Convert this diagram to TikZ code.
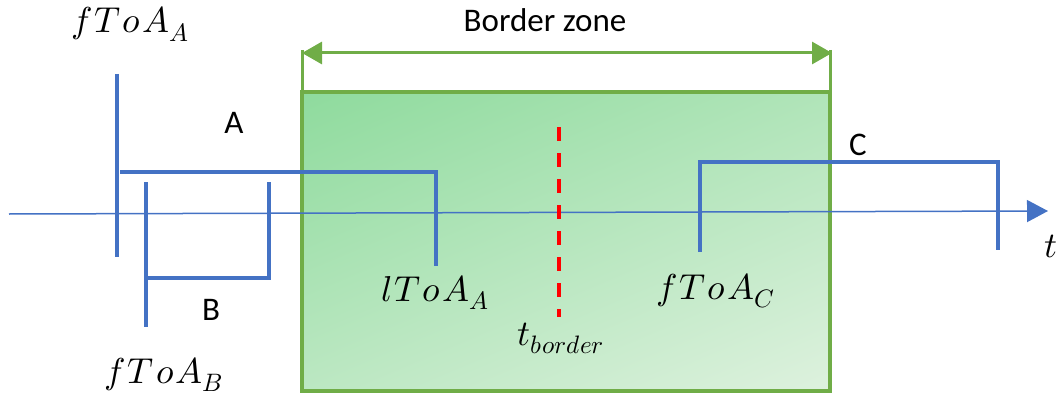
\documentclass[tikz,border=0pt]{standalone}
\usepackage{fontspec}
\usepackage{unicode-math}
\setmathfont{Latin Modern Math}
\newfontfamily\labelfont{Carlito}
\usetikzlibrary{arrows.meta}

\definecolor{sigblue}{HTML}{4472C4}
\definecolor{zonegreen}{HTML}{70AD47}
\definecolor{zonedark}{HTML}{8CDA9B}
\definecolor{zonelight}{HTML}{E0F2E0}
\definecolor{borderred}{HTML}{FF0000}

% diagonal fill of the border zone, spread over the whole shading square
\pgfdeclarehorizontalshading{zonefade}{100bp}{%
  color(0bp)=(zonedark); color(15bp)=(zonedark);
  color(85bp)=(zonelight); color(100bp)=(zonelight)}

% math italic for the time-of-arrival labels
\newcommand{\toa}[2]{$#1\mkern1mu T\mkern1mu o\mkern1mu A_{#2}$}

\begin{document}
\begin{tikzpicture}[x=1pt,y=-1pt,
  signal/.style={draw=sigblue,line width=3.2pt},
  axisline/.style={draw=sigblue,line width=1.5pt,-{Triangle[length=21pt,width=22pt]}},
  zonebox/.style={shading=zonefade,shading angle=-67},
  zoneframe/.style={draw=zonegreen,line width=4pt},
  zoneline/.style={draw=zonegreen,line width=3pt},
  zonearrow/.style={zoneline,{Triangle[length=20pt,width=22pt]}-{Triangle[length=20pt,width=22pt]}},
  dashline/.style={draw=borderred,line width=4pt,dash pattern=on 14pt off 12pt},
  sigtext/.style={font=\labelfont\fontsize{33}{36}\selectfont,inner sep=0pt},
  mathtext/.style={font=\fontsize{36}{40}\selectfont,inner sep=0pt,anchor=base}]

\path[use as bounding box] (0,0) rectangle (1064,401);

% border zone
\coordinate (zTL) at (302,92);
\coordinate (zBR) at (830,391);
\shade[zonebox] (zTL) rectangle (zBR);
\draw[zoneframe] (zTL) rectangle (zBR);
\coordinate (zL) at (302,50);
\coordinate (zR) at (830,50);
\draw[zoneline] (zL) -- (zTL);
\draw[zoneline] (zR) -- (zR |- zTL);
\coordinate (arL) at (302,53);
\coordinate (arR) at (832,53);
\draw[zonearrow] (arL) -- (arR);
\node[sigtext] (bz) at (545,20) {Border zone};

% time axis
\coordinate (ax0) at (9,214);
\coordinate (ax1) at (1048,211);
\draw[axisline] (ax0) -- (ax1);
\node[mathtext] (tlab) at (1051,257) {$t$};

% signal A
\coordinate (aT) at (117,74);
\coordinate (aB) at (117,257);
\coordinate (a1) at (120,172);
\coordinate (a2) at (436,172);
\coordinate (a3) at (436,266);
\draw[signal] (aT) -- (aB);
\draw[signal] (a1) -- (a2) -- (a3);
\node[sigtext] (la) at (234,123) {A};

% signal B
\coordinate (bT) at (146,182);
\coordinate (bB) at (146,327);
\coordinate (b1) at (146,278);
\coordinate (b2) at (269,278);
\coordinate (b3) at (269,182);
\draw[signal] (bT) -- (bB);
\draw[signal] (b1) -- (b2) -- (b3);
\node[sigtext] (lb) at (211,310) {B};

% signal C
\coordinate (c0) at (700,252);
\coordinate (c1) at (700,162);
\coordinate (c2) at (998,162);
\coordinate (c3) at (998,250);
\draw[signal] (c0) -- (c1) -- (c2) -- (c3);
\node[sigtext] (lc) at (858,145) {C};

% border instant
\coordinate (rT) at (559,127);
\coordinate (rB) at (559,317);
\draw[dashline] (rT) -- (rB);

% time-of-arrival labels
\node[mathtext] (fa) at (130,33) {\toa{f}{A}};
\node[mathtext] (fb) at (164,383) {\toa{f}{B}};
\node[mathtext] (la2) at (435,301) {\toa{l}{A}};
\node[mathtext] (fc) at (716,299) {\toa{f}{C}};
\node[mathtext] (tb) at (561,345) {$t_{border}$};
\end{tikzpicture}
\end{document}
